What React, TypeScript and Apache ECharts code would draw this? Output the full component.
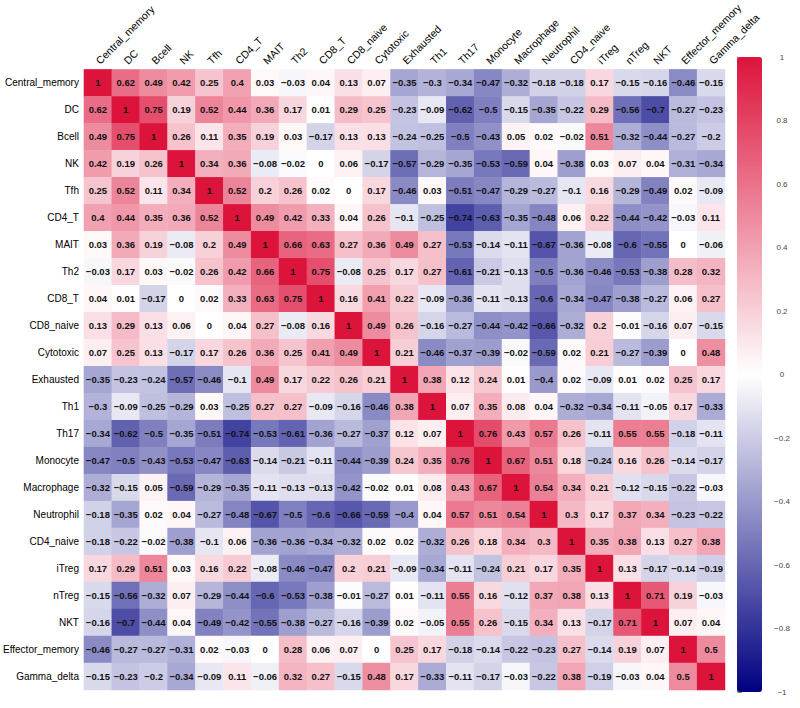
import React, { useEffect, useRef } from "react";
import * as echarts from "echarts";

const cellTypes = [
  "Central_memory", "DC", "Bcell", "NK", "Tfh", "CD4_T", "MAIT", "Th2", "CD8_T", "CD8_naive",
  "Cytotoxic", "Exhausted", "Th1", "Th17", "Monocyte", "Macrophage", "Neutrophil", "CD4_naive",
  "iTreg", "nTreg", "NKT", "Effector_memory", "Gamma_delta",
];

const rowCentralMemory = [1, 0.62, 0.49, 0.42, 0.25, 0.4, 0.03, -0.03, 0.04, 0.13, 0.07, -0.35, -0.3, -0.34, -0.47, -0.32, -0.18, -0.18, 0.17, -0.15, -0.16, -0.46, -0.15];
const rowDC = [0.62, 1, 0.75, 0.19, 0.52, 0.44, 0.36, 0.17, 0.01, 0.29, 0.25, -0.23, -0.09, -0.62, -0.5, -0.15, -0.35, -0.22, 0.29, -0.56, -0.7, -0.27, -0.23];
const rowBcell = [0.49, 0.75, 1, 0.26, 0.11, 0.35, 0.19, 0.03, -0.17, 0.13, 0.13, -0.24, -0.25, -0.5, -0.43, 0.05, 0.02, -0.02, 0.51, -0.32, -0.44, -0.27, -0.2];
const rowNK = [0.42, 0.19, 0.26, 1, 0.34, 0.36, -0.08, -0.02, 0, 0.06, -0.17, -0.57, -0.29, -0.35, -0.53, -0.59, 0.04, -0.38, 0.03, 0.07, 0.04, -0.31, -0.34];
const rowTfh = [0.25, 0.52, 0.11, 0.34, 1, 0.52, 0.2, 0.26, 0.02, 0, 0.17, -0.46, 0.03, -0.51, -0.47, -0.29, -0.27, -0.1, 0.16, -0.29, -0.49, 0.02, -0.09];
const rowCD4T = [0.4, 0.44, 0.35, 0.36, 0.52, 1, 0.49, 0.42, 0.33, 0.04, 0.26, -0.1, -0.25, -0.74, -0.63, -0.35, -0.48, 0.06, 0.22, -0.44, -0.42, -0.03, 0.11];
const rowMAIT = [0.03, 0.36, 0.19, -0.08, 0.2, 0.49, 1, 0.66, 0.63, 0.27, 0.36, 0.49, 0.27, -0.53, -0.14, -0.11, -0.67, -0.36, -0.08, -0.6, -0.55, 0, -0.06];
const rowTh2 = [-0.03, 0.17, 0.03, -0.02, 0.26, 0.42, 0.66, 1, 0.75, -0.08, 0.25, 0.17, 0.27, -0.61, -0.21, -0.13, -0.5, -0.36, -0.46, -0.53, -0.38, 0.28, 0.32];
const rowCD8T = [0.04, 0.01, -0.17, 0, 0.02, 0.33, 0.63, 0.75, 1, 0.16, 0.41, 0.22, -0.09, -0.36, -0.11, -0.13, -0.6, -0.34, -0.47, -0.38, -0.27, 0.06, 0.27];
const rowCD8Naive = [0.13, 0.29, 0.13, 0.06, 0, 0.04, 0.27, -0.08, 0.16, 1, 0.49, 0.26, -0.16, -0.27, -0.44, -0.42, -0.66, -0.32, 0.2, -0.01, -0.16, 0.07, -0.15];
const rowCytotoxic = [0.07, 0.25, 0.13, -0.17, 0.17, 0.26, 0.36, 0.25, 0.41, 0.49, 1, 0.21, -0.46, -0.37, -0.39, -0.02, -0.59, 0.02, 0.21, -0.27, -0.39, 0, 0.48];
const rowExhausted = [-0.35, -0.23, -0.24, -0.57, -0.46, -0.1, 0.49, 0.17, 0.22, 0.26, 0.21, 1, 0.38, 0.12, 0.24, 0.01, -0.4, 0.02, -0.09, 0.01, 0.02, 0.25, 0.17];
const rowTh1 = [-0.3, -0.09, -0.25, -0.29, 0.03, -0.25, 0.27, 0.27, -0.09, -0.16, -0.46, 0.38, 1, 0.07, 0.35, 0.08, 0.04, -0.32, -0.34, -0.11, -0.05, 0.17, -0.33];
const rowTh17 = [-0.34, -0.62, -0.5, -0.35, -0.51, -0.74, -0.53, -0.61, -0.36, -0.27, -0.37, 0.12, 0.07, 1, 0.76, 0.43, 0.57, 0.26, -0.11, 0.55, 0.55, -0.18, -0.11];
const rowMonocyte = [-0.47, -0.5, -0.43, -0.53, -0.47, -0.63, -0.14, -0.21, -0.11, -0.44, -0.39, 0.24, 0.35, 0.76, 1, 0.67, 0.51, 0.18, -0.24, 0.16, 0.26, -0.14, -0.17];
const rowMacrophage = [-0.32, -0.15, 0.05, -0.59, -0.29, -0.35, -0.11, -0.13, -0.13, -0.42, -0.02, 0.01, 0.08, 0.43, 0.67, 1, 0.54, 0.34, 0.21, -0.12, -0.15, -0.22, -0.03];
const rowNeutrophil = [-0.18, -0.35, 0.02, 0.04, -0.27, -0.48, -0.67, -0.5, -0.6, -0.66, -0.59, -0.4, 0.04, 0.57, 0.51, 0.54, 1, 0.3, 0.17, 0.37, 0.34, -0.23, -0.22];
const rowCD4Naive = [-0.18, -0.22, -0.02, -0.38, -0.1, 0.06, -0.36, -0.36, -0.34, -0.32, 0.02, 0.02, -0.32, 0.26, 0.18, 0.34, 0.3, 1, 0.35, 0.38, 0.13, 0.27, 0.38];
const rowITreg = [0.17, 0.29, 0.51, 0.03, 0.16, 0.22, -0.08, -0.46, -0.47, 0.2, 0.21, -0.09, -0.34, -0.11, -0.24, 0.21, 0.17, 0.35, 1, 0.13, -0.17, -0.14, -0.19];
const rowNTreg = [-0.15, -0.56, -0.32, 0.07, -0.29, -0.44, -0.6, -0.53, -0.38, -0.01, -0.27, 0.01, -0.11, 0.55, 0.16, -0.12, 0.37, 0.38, 0.13, 1, 0.71, 0.19, -0.03];
const rowNKT = [-0.16, -0.7, -0.44, 0.04, -0.49, -0.42, -0.55, -0.38, -0.27, -0.16, -0.39, 0.02, -0.05, 0.55, 0.26, -0.15, 0.34, 0.13, -0.17, 0.71, 1, 0.07, 0.04];
const rowEffectorMemory = [-0.46, -0.27, -0.27, -0.31, 0.02, -0.03, 0, 0.28, 0.06, 0.07, 0, 0.25, 0.17, -0.18, -0.14, -0.22, -0.23, 0.27, -0.14, 0.19, 0.07, 1, 0.5];
const rowGammaDelta = [-0.15, -0.23, -0.2, -0.34, -0.09, 0.11, -0.06, 0.32, 0.27, -0.15, 0.48, 0.17, -0.33, -0.11, -0.17, -0.03, -0.22, 0.38, -0.19, -0.03, 0.04, 0.5, 1];

const matrixRows = [
  rowCentralMemory, rowDC, rowBcell, rowNK, rowTfh, rowCD4T, rowMAIT, rowTh2, rowCD8T, rowCD8Naive,
  rowCytotoxic, rowExhausted, rowTh1, rowTh17, rowMonocyte, rowMacrophage, rowNeutrophil, rowCD4Naive,
  rowITreg, rowNTreg, rowNKT, rowEffectorMemory, rowGammaDelta,
];

const legendMin = -1;
const legendMax = 1;
const legendStep = 0.2;

const fmt = (v: number) => {
  const r = Math.round(v * 100) / 100;
  return String(r).replace("-", "\u2212");
};

export default function App() {
  const ref = useRef<HTMLDivElement>(null);
  useEffect(() => {
    if (!ref.current) return;
    const chart = echarts.init(ref.current, null, { renderer: "svg" });
    const data: number[][] = [];
    matrixRows.forEach((row, yi) => {
      row.forEach((v, xi) => data.push([xi, yi, v]));
    });
    const font = "'Liberation Sans', Arial, sans-serif";
    chart.setOption({
      animation: false,
      backgroundColor: "#ffffff",
      textStyle: { fontFamily: font },
      grid: [
        { left: 77, top: 57, width: 648, height: 633, containLabel: false },
        { left: 737, top: 57, width: 25, height: 635, containLabel: false },
      ],
      xAxis: [
        {
          type: "category",
          data: cellTypes,
          position: "top",
          gridIndex: 0,
          axisLine: { show: false },
          axisTick: { show: false },
          splitLine: { show: false },
          axisLabel: { rotate: -45, interval: 0, fontSize: 10.5, color: "#000", margin: 7, fontFamily: font },
        },
        { type: "value", gridIndex: 1, show: false, min: 0, max: 1 },
      ],
      yAxis: [
        {
          type: "category",
          data: cellTypes,
          inverse: true,
          gridIndex: 0,
          axisLine: { show: false },
          axisTick: { show: false },
          splitLine: { show: false },
          axisLabel: { interval: 0, fontSize: 10, color: "#000", margin: 5, fontFamily: font },
        },
        {
          type: "value",
          gridIndex: 1,
          min: legendMin,
          max: legendMax,
          interval: legendStep,
          position: "right",
          axisLine: { show: true, lineStyle: { color: "#888", width: 1 } },
          axisTick: { show: true, length: 5, lineStyle: { color: "#888" } },
          splitLine: { show: false },
          axisLabel: {
            fontSize: 8,
            color: "#444",
            margin: 20,
            align: "center",
            fontFamily: font,
            formatter: (v: number) => fmt(v),
          },
        },
      ],
      visualMap: {
        type: "continuous",
        min: legendMin,
        max: legendMax,
        seriesIndex: 0,
        calculable: false,
        orient: "vertical",
        left: 737,
        top: 57,
        itemWidth: 25,
        itemHeight: 635,
        padding: 0,
        inRange: { color: ["#000080", "#ffffff", "#DC143C"] },
      },
      series: [
        {
          type: "heatmap",
          xAxisIndex: 0,
          yAxisIndex: 0,
          data,
          label: {
            show: true,
            fontSize: 9.5,
            fontWeight: "bold",
            color: "#111",
            fontFamily: font,
            formatter: (p: any) => fmt(p.value[2]),
          },
          emphasis: { disabled: true },
        },
        {
          type: "scatter",
          xAxisIndex: 1,
          yAxisIndex: 1,
          data: [],
          silent: true,
        },
      ],
    });
    return () => chart.dispose();
  }, []);
  return (
    <div
      ref={ref}
      style={{ position: "fixed", left: 0, top: 0, width: 800, height: 708, background: "#fff" }}
    />
  );
}
